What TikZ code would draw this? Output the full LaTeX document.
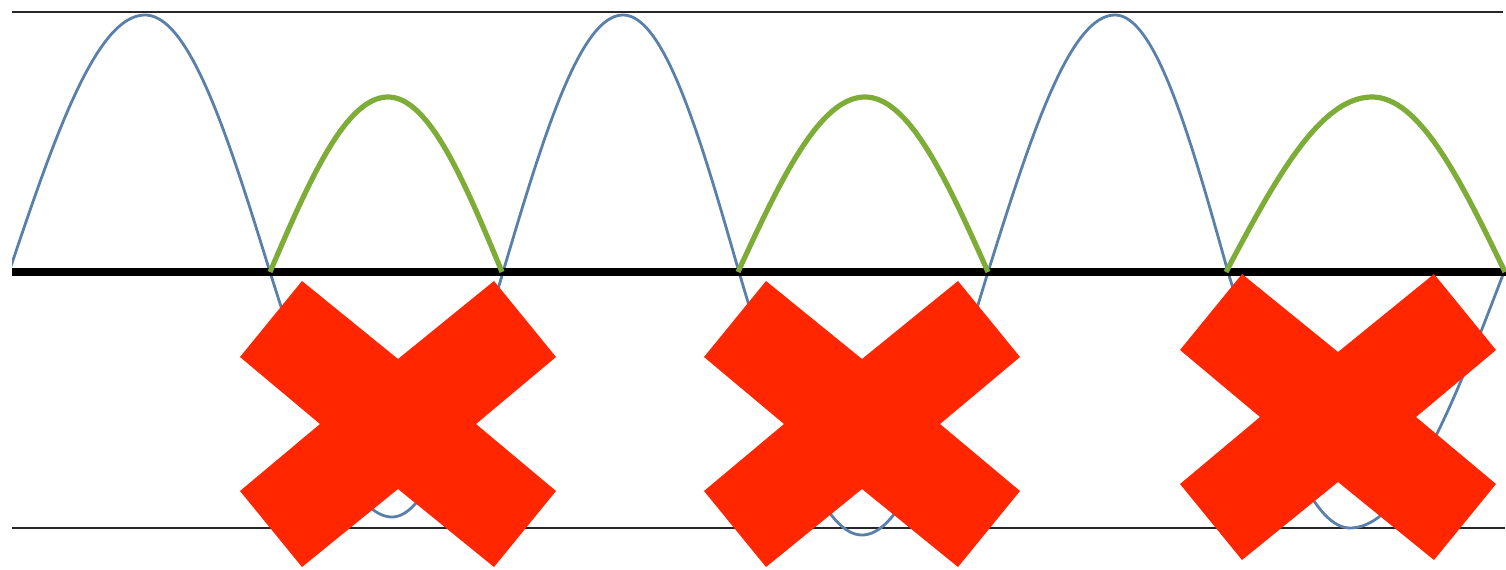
\documentclass[tikz,border=0pt]{standalone}
\definecolor{wave}{RGB}{88,128,170}
\definecolor{rect}{RGB}{125,172,55}
\definecolor{cross}{RGB}{255,38,0}
\tikzset{
  rail/.style={line width=1pt, black!85},
  axisline/.style={line width=4pt, black},
  bluewave/.style={line width=1.4pt, wave},
  greenwave/.style={line width=2.6pt, rect},
  crossmark/.style={fill=cross, draw=none},
}
% hump: #1 start x, #2 extremum x, #3 end x, #4 amplitude (pixels, positive = up)
\newcommand{\hump}[5]{%
  \draw[#5] plot[domain=#1:#2, samples=40, smooth] (\x, {272-(#4)*sin(90*(\x-(#1))/((#2)-(#1)))})
            -- plot[domain=#2:#3, samples=40, smooth] (\x, {272-(#4)*cos(90*(\x-(#2))/((#3)-(#2)))});}
\newcommand{\xmark}[2]{%
  \fill[crossmark, shift={(#1,#2)}] (-158,-67) -- (-96,-143) -- (0,-65) -- (96,-143) -- (158,-67) -- (78,0)
     -- (158,67) -- (96,143) -- (0,65) -- (-96,143) -- (-158,67) -- (-78,0) -- cycle;}
\begin{document}
\begin{tikzpicture}[x=0.5pt,y=-0.5pt]
\useasboundingbox (0,0) rectangle (1506,569);
\draw[rail] (12,12) -- (1503,12);
\draw[rail] (12,528) -- (1505,528);
\begin{scope}
\clip (12,0) rectangle (1506,569);
\hump{9}{145}{270}{257}{bluewave}
\hump{270}{392}{503}{-245}{bluewave}
\hump{503}{623}{739}{257}{bluewave}
\hump{739}{862}{988}{-263}{bluewave}
\hump{988}{1115}{1228}{257}{bluewave}
\hump{1228}{1350}{1504}{-256}{bluewave}
\end{scope}
\draw[axisline] (12,272) -- (1506,272);
\hump{270}{388}{502}{175}{greenwave}
\hump{738}{865}{988}{175}{greenwave}
\hump{1226}{1372}{1505}{175}{greenwave}
\xmark{398}{424}
\xmark{862}{424}
\xmark{1338}{417}
\end{tikzpicture}
\end{document}
